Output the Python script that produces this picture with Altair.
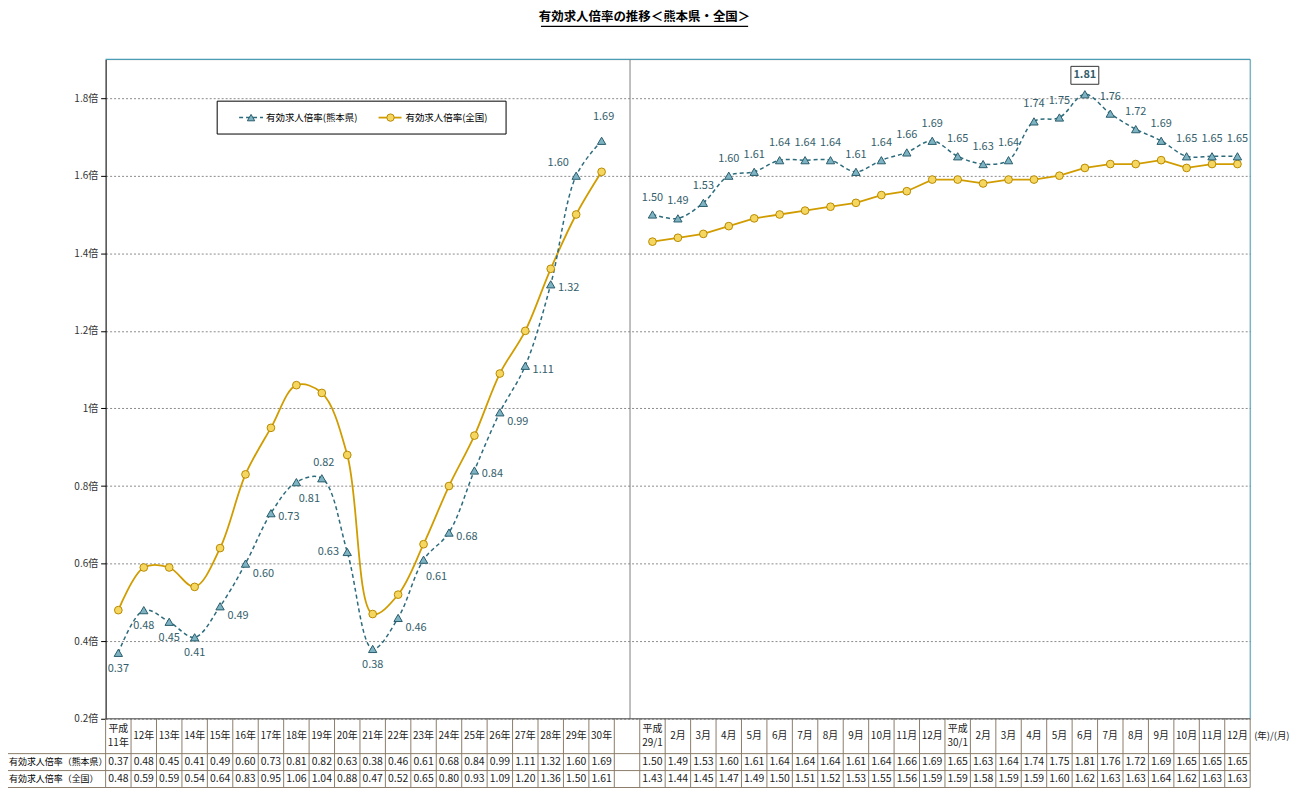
import altair as alt
import pandas as pd

# ---------------- data ----------------
year_labels = ["平成\n11年", "12年", "13年", "14年", "15年", "16年", "17年", "18年", "19年", "20年",
               "21年", "22年", "23年", "24年", "25年", "26年", "27年", "28年", "29年", "30年"]
month_labels = ["平成\n29/1", "2月", "3月", "4月", "5月", "6月", "7月", "8月", "9月", "10月", "11月", "12月",
                "平成\n30/1", "2月", "3月", "4月", "5月", "6月", "7月", "8月", "9月", "10月", "11月", "12月"]

kumamoto_annual = [0.37, 0.48, 0.45, 0.41, 0.49, 0.60, 0.73, 0.81, 0.82, 0.63,
                   0.38, 0.46, 0.61, 0.68, 0.84, 0.99, 1.11, 1.32, 1.60, 1.69]
national_annual = [0.48, 0.59, 0.59, 0.54, 0.64, 0.83, 0.95, 1.06, 1.04, 0.88,
                   0.47, 0.52, 0.65, 0.80, 0.93, 1.09, 1.20, 1.36, 1.50, 1.61]
kumamoto_monthly = [1.50, 1.49, 1.53, 1.60, 1.61, 1.64, 1.64, 1.64, 1.61, 1.64, 1.66, 1.69,
                    1.65, 1.63, 1.64, 1.74, 1.75, 1.81, 1.76, 1.72, 1.69, 1.65, 1.65, 1.65]
national_monthly = [1.43, 1.44, 1.45, 1.47, 1.49, 1.50, 1.51, 1.52, 1.53, 1.55, 1.56, 1.59,
                    1.59, 1.58, 1.59, 1.59, 1.60, 1.62, 1.63, 1.63, 1.64, 1.62, 1.63, 1.63]

# label placement of the annual Kumamoto data labels (style, not data)
annual_label_pos = ["below", "below", "below", "below", "rb", "rb", "right", "br", "above", "left",
                    "below", "rb", "br", "right", "right", "rb", "right", "right", "la", "top"]

series_names = ["有効求人倍率(熊本県)", "有効求人倍率(全国)"]
row_names = ["有効求人倍率（熊本県）", "有効求人倍率（全国）"]
title_text = "有効求人倍率の推移＜熊本県・全国＞"
unit_text = "(年)/(月)"
y_ticks = [0.2, 0.4, 0.6, 0.8, 1.0, 1.2, 1.4, 1.6, 1.8]

# ---------------- tables ----------------
year_keys = [f"Y{i:02d}" for i in range(len(year_labels))]
month_keys = [f"M{i:02d}" for i in range(len(month_labels))]
keys = year_keys + ["GAP"] + month_keys

annual = pd.DataFrame({"key": year_keys, "idx": range(len(year_keys)),
                       "kum": kumamoto_annual, "nat": national_annual, "pos": annual_label_pos})
monthly = pd.DataFrame({"key": month_keys, "idx": range(len(month_keys)),
                        "kum": kumamoto_monthly, "nat": national_monthly})
monthly["peak"] = monthly["kum"] == monthly["kum"].max()

heads = year_labels + [""] + month_labels
table = pd.DataFrame({
    "key": keys,
    "head": heads,
    "two": ["\n" in h for h in heads],
    "kt": [f"{v:.2f}" for v in kumamoto_annual] + [""] + [f"{v:.2f}" for v in kumamoto_monthly],
    "nt": [f"{v:.2f}" for v in national_annual] + [""] + [f"{v:.2f}" for v in national_monthly],
})
one = pd.DataFrame({"a": [0]})
gap = pd.DataFrame({"key": ["GAP"]})

# ---------------- style ----------------
JP = "Noto Sans CJK JP"
TEAL = "#2C6B7C"
TEAL_D = "#2A5C6B"
TRI_FILL = "#7DB3C2"
GOLD = "#D19C00"
CIRC_FILL = "#F5D660"
CIRC_STROKE = "#B88A00"
LABEL_C = "#345E6B"
BORDER = "#4A9DB5"
TBL = "#8C7D6A"

W, H = 1149, 662
STEP = W / len(keys)
ROW0, ROW1, ROW2, ROW3 = H, H + 35, H + 52, H + 69

X = alt.X("key:N", scale=alt.Scale(type="point", domain=keys, padding=0.5), axis=None)
yscale = alt.Scale(domain=[0.2, 1.9], nice=False, zero=False)
yaxis = alt.Axis(values=y_ticks,
                 labelExpr="datum.value == 1 ? '1倍' : format(datum.value, '.1f') + '倍'",
                 title=None, grid=True, gridDash=[2, 2], gridColor="#8c8c8c", gridWidth=1,
                 domainColor="#000", tickColor="#000", tickSize=5,
                 labelFont=JP, labelFontSize=10, labelColor="#333", labelPadding=3)


def Y(f):
    return alt.Y(f"{f}:Q", scale=yscale, axis=yaxis)


layers = []

# borders / divider
layers.append(alt.Chart(one).mark_rule(color=BORDER, strokeWidth=1.2).encode(
    x=alt.value(0), x2=alt.value(W), y=alt.value(0)))
layers.append(alt.Chart(one).mark_rule(color=BORDER, strokeWidth=1).encode(
    x=alt.value(W), y=alt.value(0), y2=alt.value(H)))
layers.append(alt.Chart(gap).mark_rule(color="#808080", strokeWidth=1, xOffset=3).encode(
    x=X, y=alt.value(0), y2=alt.value(H)))

# lines
layers.append(alt.Chart(annual).mark_line(interpolate="catmull-rom", color=GOLD, strokeWidth=1.8).encode(
    x=X, y=Y("nat"), order="idx:Q"))
layers.append(alt.Chart(monthly).mark_line(color=GOLD, strokeWidth=1.8).encode(
    x=X, y=Y("nat"), order="idx:Q"))
layers.append(alt.Chart(annual).mark_line(interpolate="catmull-rom", color=TEAL, strokeWidth=1.5,
                                          strokeDash=[4, 3]).encode(x=X, y=Y("kum"), order="idx:Q"))
layers.append(alt.Chart(monthly).mark_line(interpolate="catmull-rom", color=TEAL, strokeWidth=1.5,
                                           strokeDash=[4, 3]).encode(x=X, y=Y("kum"), order="idx:Q"))

# points
for df in (annual, monthly):
    layers.append(alt.Chart(df).mark_point(shape="circle", filled=True, size=60, fill=CIRC_FILL,
                                           stroke=CIRC_STROKE, strokeWidth=1, opacity=1).encode(
        x=X, y=Y("nat")))
    layers.append(alt.Chart(df).mark_point(shape="triangle-up", filled=True, size=70, fill=TRI_FILL,
                                           stroke=TEAL_D, strokeWidth=1, opacity=1).encode(
        x=X, y=Y("kum")))

# annual labels
offsets = {"below": (0, 16), "above": (2, -15), "top": (2, -24), "right": (18, 4), "rb": (18, 10),
           "br": (13, 17), "left": (-19, 0), "la": (-18, -13)}
for pos, (dx, dy) in offsets.items():
    layers.append(alt.Chart(annual).transform_filter(alt.datum.pos == pos).mark_text(
        dx=dx, dy=dy, font=JP, fontSize=11, color=LABEL_C, align="center", baseline="middle").encode(
        x=X, y=Y("kum"), text=alt.Text("kum:Q", format=".2f")))

# monthly labels
layers.append(alt.Chart(monthly).transform_filter("!datum.peak").mark_text(
    dy=-17, font=JP, fontSize=11, color=LABEL_C, align="center", baseline="middle").encode(
    x=X, y=Y("kum"), text=alt.Text("kum:Q", format=".2f")))
layers.append(alt.Chart(monthly).transform_filter("datum.peak").mark_rect(
    fill="white", stroke="#333", strokeWidth=1, xOffset=-14, x2Offset=14, yOffset=-28, y2Offset=-10).encode(
    x=X, x2=alt.X2("key"), y=Y("kum"), y2=alt.Y2("kum")))
layers.append(alt.Chart(monthly).transform_filter("datum.peak").mark_text(
    dy=-19, font=JP, fontSize=11, fontWeight="bold", color=LABEL_C, align="center", baseline="middle").encode(
    x=X, y=Y("kum"), text=alt.Text("kum:Q", format=".2f")))

# legend
layers.append(alt.Chart(one).mark_rect(fill="white", stroke="#000", strokeWidth=1).encode(
    x=alt.value(112), x2=alt.value(402), y=alt.value(42), y2=alt.value(75)))
layers.append(alt.Chart(one).mark_rule(color=TEAL, strokeWidth=1.5, strokeDash=[4, 3]).encode(
    x=alt.value(134), x2=alt.value(158), y=alt.value(58.5)))
layers.append(alt.Chart(one).mark_point(shape="triangle-up", filled=True, size=55, fill=TRI_FILL,
                                        stroke=TEAL_D, strokeWidth=1, opacity=1).encode(
    x=alt.value(146), y=alt.value(58.5)))
layers.append(alt.Chart(one).mark_text(text=series_names[0], font=JP, fontSize=9.5, color="#000",
                                       align="left", baseline="middle").encode(
    x=alt.value(161), y=alt.value(58.5)))
layers.append(alt.Chart(one).mark_rule(color=GOLD, strokeWidth=1.8).encode(
    x=alt.value(274), x2=alt.value(297), y=alt.value(58.5)))
layers.append(alt.Chart(one).mark_point(shape="circle", filled=True, size=55, fill=CIRC_FILL,
                                        stroke=CIRC_STROKE, strokeWidth=1, opacity=1).encode(
    x=alt.value(286), y=alt.value(58.5)))
layers.append(alt.Chart(one).mark_text(text=series_names[1], font=JP, fontSize=9.5, color="#000",
                                       align="left", baseline="middle").encode(
    x=alt.value(301), y=alt.value(58.5)))

# title
layers.append(alt.Chart(one).mark_text(text=title_text, font=JP, fontSize=12.5, fontWeight="bold",
                                       color="#000", align="center", baseline="middle").encode(
    x=alt.value(541), y=alt.value(-42)))
layers.append(alt.Chart(one).mark_rule(color="#000", strokeWidth=1.2).encode(
    x=alt.value(437), x2=alt.value(645), y=alt.value(-33)))

# data table grid
layers.append(alt.Chart(table).mark_rule(color=TBL, strokeWidth=1, xOffset=STEP / 2).encode(
    x=X, y=alt.value(ROW0), y2=alt.value(ROW3)))
layers.append(alt.Chart(one).mark_rule(color=TBL, strokeWidth=1).encode(
    x=alt.value(0), y=alt.value(ROW0), y2=alt.value(ROW3)))
layers.append(alt.Chart(one).mark_rule(color=TBL, strokeWidth=1).encode(
    x=alt.value(-99), y=alt.value(ROW1), y2=alt.value(ROW3)))
for yy in (ROW1, ROW2, ROW3):
    layers.append(alt.Chart(one).mark_rule(color=TBL, strokeWidth=1).encode(
        x=alt.value(-99), x2=alt.value(W), y=alt.value(yy)))
layers.append(alt.Chart(one).mark_rule(color="#555", strokeWidth=1.2).encode(
    x=alt.value(0), x2=alt.value(W), y=alt.value(ROW0)))

# data table text
layers.append(alt.Chart(table).transform_filter("!datum.two").mark_text(
    font=JP, fontSize=10, color="#222", align="center", baseline="middle").encode(
    x=X, y=alt.value((ROW0 + ROW1) / 2), text="head:N"))
layers.append(alt.Chart(table).transform_filter("datum.two").mark_text(
    font=JP, fontSize=10, color="#222", align="center", baseline="middle",
    lineBreak="\n", lineHeight=14).encode(
    x=X, y=alt.value(ROW0 + 10.5), text="head:N"))
layers.append(alt.Chart(table).mark_text(font=JP, fontSize=10.5, color="#222", align="center",
                                         baseline="middle").encode(
    x=X, y=alt.value((ROW1 + ROW2) / 2), text="kt:N"))
layers.append(alt.Chart(table).mark_text(font=JP, fontSize=10.5, color="#222", align="center",
                                         baseline="middle").encode(
    x=X, y=alt.value((ROW2 + ROW3) / 2), text="nt:N"))
for name, r0, r1 in ((row_names[0], ROW1, ROW2), (row_names[1], ROW2, ROW3)):
    layers.append(alt.Chart(one).mark_text(text=name, font=JP, fontSize=9, color="#000",
                                           align="left", baseline="middle").encode(
        x=alt.value(-97), y=alt.value((r0 + r1) / 2)))
layers.append(alt.Chart(one).mark_text(text=unit_text, font=JP, fontSize=9.5, color="#222",
                                       align="left", baseline="middle").encode(
    x=alt.value(W + 4), y=alt.value((ROW0 + ROW1) / 2)))

chart = alt.layer(*layers).properties(
    width=W, height=H,
    padding={"left": 98, "top": 50, "right": 45, "bottom": 75},
    autosize=alt.AutoSizeParams(type="none"),
).configure_view(stroke=None).configure(background="white")

chart.save("out.html", embed_options={"renderer": "svg", "actions": False})
